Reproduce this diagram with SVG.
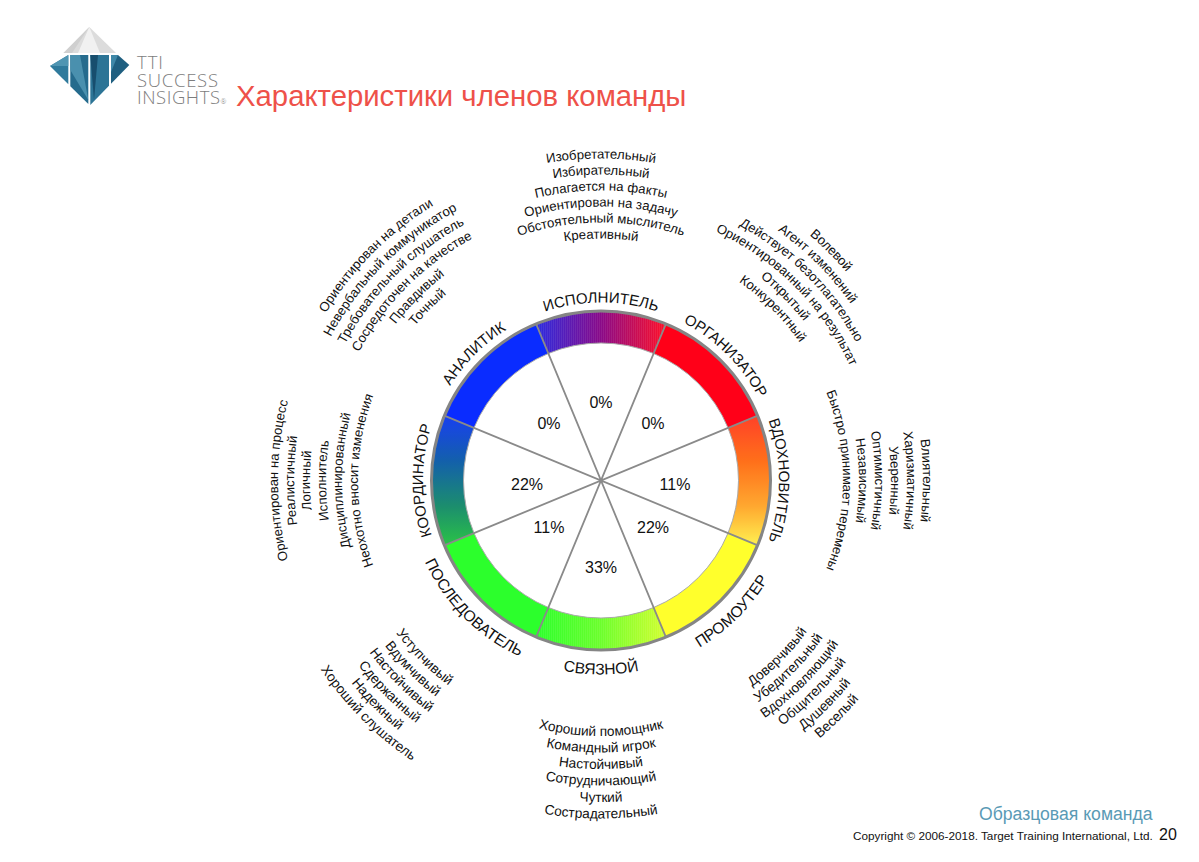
<svg xmlns="http://www.w3.org/2000/svg" width="1199" height="862" viewBox="0 0 1199 862">
<style>
text{font-family:"Liberation Sans",Arial,sans-serif;fill:#111}
.t{font-size:13.2px;text-anchor:middle}
.tb{font-size:13.7px;text-anchor:middle}
.l{font-size:15px;text-anchor:middle}
.lb{font-size:15.6px;text-anchor:middle}
.p{font-size:16px;text-anchor:middle}
.lg{font-family:"Open Sans","Liberation Sans",sans-serif;font-weight:300;font-size:18.5px;fill:#7d7d7d}
.sp{stroke:#8a8a8a;stroke-width:1.8;fill:none}
</style>
<defs>
<linearGradient id="gT" gradientUnits="userSpaceOnUse" x1="-65" y1="0" x2="65" y2="0"><stop offset="0" stop-color="#2c2ce0"/><stop offset=".5" stop-color="#8a0a88"/><stop offset="1" stop-color="#ff1028"/></linearGradient>
<linearGradient id="gE" gradientUnits="userSpaceOnUse" x1="0" y1="-65" x2="0" y2="65"><stop offset="0" stop-color="#ff3a20"/><stop offset=".35" stop-color="#ff6a12"/><stop offset=".7" stop-color="#ffa528"/><stop offset="1" stop-color="#fff04a"/></linearGradient>
<linearGradient id="gS" gradientUnits="userSpaceOnUse" x1="-65" y1="0" x2="65" y2="0"><stop offset="0" stop-color="#2cff2c"/><stop offset=".5" stop-color="#6cff2c"/><stop offset="1" stop-color="#d4ff30"/></linearGradient>
<linearGradient id="gW" gradientUnits="userSpaceOnUse" x1="0" y1="-65" x2="0" y2="65"><stop offset="0" stop-color="#1038f0"/><stop offset=".35" stop-color="#0a5aa8"/><stop offset=".7" stop-color="#148a68"/><stop offset="1" stop-color="#22c040"/></linearGradient>
<pattern id="sv" patternUnits="userSpaceOnUse" width="2" height="2"><rect width="1" height="2" fill="#fff" fill-opacity=".07"/></pattern>
<pattern id="sh" patternUnits="userSpaceOnUse" width="2" height="2"><rect width="2" height="1" fill="#fff" fill-opacity=".07"/></pattern>
<path id="c178" d="M-178 0A178 178 0 0 1 178 0"/>
<path id="c242" d="M-242 0A242 242 0 0 1 242 0"/>
<path id="c258" d="M-258 0A258 258 0 0 1 258 0"/>
<path id="c274" d="M-274 0A274 274 0 0 1 274 0"/>
<path id="c290" d="M-290 0A290 290 0 0 1 290 0"/>
<path id="c306" d="M-306 0A306 306 0 0 1 306 0"/>
<path id="c322" d="M-322 0A322 322 0 0 1 322 0"/>
<path id="c323" d="M-323 0A323 323 0 0 1 323 0"/>
<path id="c307" d="M-307 0A307 307 0 0 1 307 0"/>
<path id="c291" d="M-291 0A291 291 0 0 1 291 0"/>
<path id="c275" d="M-275 0A275 275 0 0 1 275 0"/>
<path id="c259" d="M-259 0A259 259 0 0 1 259 0"/>
<path id="c243" d="M-243 0A243 243 0 0 1 243 0"/>
<path id="b194" d="M-194 0A194 194 0 0 0 194 0"/>
<path id="b255" d="M-255.5 0A255.5 255.5 0 0 0 255.5 0"/>
<path id="b272" d="M-272 0A272 272 0 0 0 272 0"/>
<path id="b288" d="M-288.5 0A288.5 288.5 0 0 0 288.5 0"/>
<path id="b305" d="M-305 0A305 305 0 0 0 305 0"/>
<path id="b321" d="M-321.5 0A321.5 321.5 0 0 0 321.5 0"/>
<path id="b338" d="M-338 0A338 338 0 0 0 338 0"/>
</defs>
<rect width="1199" height="862" fill="#fff"/>
<g id="logo">
<polygon points="89.3,27 63.5,53 116,53" fill="#dcdcdc"/>
<polygon points="89.3,27 78,53 100,53" fill="#f1f1f1"/>
<polygon points="89.3,27 63.5,53 72,53" fill="#cfcfcf"/>
<polygon points="50,66 68.3,55 68.3,84.2" fill="#2f7a9c"/>
<polygon points="70.3,55 88.3,55 88.3,104 70.3,86.2" fill="#256b8d"/>
<polygon points="90.3,55 109,55 109,85.8 90.3,105" fill="#2c7496"/>
<polygon points="111,55 118,55 129.3,65 111,83.7" fill="#1f5f80"/>
<polygon points="70.3,55 80,55 88.3,100 70.3,70" fill="#4a90ae"/>
<polygon points="90.3,55 98,55 94,100" fill="#174e6e"/>
<polygon points="111,55 118,55 111,72" fill="#3f88a8"/>
<polygon points="50,66 68.3,55 68.3,66" fill="#4f95b2"/>
<text class="lg" x="137" y="69" textLength="26">TTI</text>
<text class="lg" x="137" y="86.5" textLength="81">SUCCESS</text>
<text class="lg" x="137" y="103.5" textLength="83">INSIGHTS</text>
<text class="lg" x="220.5" y="103.5" style="font-size:7px">®</text>
</g>
<text id="title" x="236" y="106" style="font-size:29.3px;fill:#ee5149">Характеристики членов команды</text>
<g transform="translate(601,480.5)">
<g id="node-executor">
<path d="M-64.7-156.1A169 169 0 0 1 64.7-156.1L52.6-127A137.5 137.5 0 0 0-52.6-127Z" fill="url(#gT)"/>
<path d="M-64.7-156.1A169 169 0 0 1 64.7-156.1L52.6-127A137.5 137.5 0 0 0-52.6-127Z" fill="url(#sv)"/>
<text class="p" x="0" y="-73">0%</text>
<text class="l"><textPath href="#c178" startOffset="50%">ИСПОЛНИТЕЛЬ</textPath></text>
<text class="t"><textPath href="#c322" startOffset="50%">Изобретательный</textPath></text><text class="t"><textPath href="#c306" startOffset="50%">Избирательный</textPath></text><text class="t"><textPath href="#c290" startOffset="50%">Полагается на факты</textPath></text><text class="t"><textPath href="#c274" startOffset="50%">Ориентирован на задачу</textPath></text><text class="t"><textPath href="#c258" startOffset="50%">Обстоятельный мыслитель</textPath></text><text class="t"><textPath href="#c242" startOffset="50%">Креативный</textPath></text>
</g>
<g id="node-organizer">
<path d="M64.7-156.1A169 169 0 0 1 156.1-64.7L127-52.6A137.5 137.5 0 0 0 52.6-127Z" fill="#ff0018"/>
<text class="p" x="52" y="-52">0%</text>
<g transform="rotate(45)"><text class="l"><textPath href="#c178" startOffset="50%">ОРГАНИЗАТОР</textPath></text>
<text class="t"><textPath href="#c322" startOffset="50%">Волевой</textPath></text><text class="t"><textPath href="#c306" startOffset="50%">Агент изменений</textPath></text><text class="t"><textPath href="#c290" startOffset="50%">Действует безотлагательно</textPath></text><text class="t"><textPath href="#c274" startOffset="50%">Ориентированный на результат</textPath></text><text class="t"><textPath href="#c258" startOffset="50%">Открытый</textPath></text><text class="t"><textPath href="#c242" startOffset="50%">Конкурентный</textPath></text></g>
</g>
<g id="node-inspirer">
<path d="M156.1-64.7A169 169 0 0 1 156.1 64.7L127 52.6A137.5 137.5 0 0 0 127-52.6Z" fill="url(#gE)"/>
<path d="M156.1-64.7A169 169 0 0 1 156.1 64.7L127 52.6A137.5 137.5 0 0 0 127-52.6Z" fill="url(#sh)"/>
<text class="p" x="74" y="9">11%</text>
<g transform="rotate(90)"><text class="l"><textPath href="#c178" startOffset="50%">ВДОХНОВИТЕЛЬ</textPath></text>
<text class="t"><textPath href="#c322" startOffset="50%">Влиятельный</textPath></text><text class="t"><textPath href="#c306" startOffset="50%">Харизматичный</textPath></text><text class="t"><textPath href="#c290" startOffset="50%">Уверенный</textPath></text><text class="t"><textPath href="#c274" startOffset="50%">Оптимистичный</textPath></text><text class="t"><textPath href="#c258" startOffset="50%">Независимый</textPath></text><text class="t"><textPath href="#c242" startOffset="50%">Быстро принимает перемены</textPath></text></g>
</g>
<g id="node-promoter">
<path d="M156.1 64.7A169 169 0 0 1 64.7 156.1L52.6 127A137.5 137.5 0 0 0 127 52.6Z" fill="#ffff2c"/>
<text class="p" x="52" y="52">22%</text>
<g transform="rotate(-45)"><text class="lb"><textPath href="#b194" startOffset="50%">ПРОМОУТЕР</textPath></text>
<text class="tb"><textPath href="#b255" startOffset="50%">Доверчивый</textPath></text><text class="tb"><textPath href="#b272" startOffset="50%">Убедительный</textPath></text><text class="tb"><textPath href="#b288" startOffset="50%">Вдохновляющий</textPath></text><text class="tb"><textPath href="#b305" startOffset="50%">Общительный</textPath></text><text class="tb"><textPath href="#b321" startOffset="50%">Душевный</textPath></text><text class="tb"><textPath href="#b338" startOffset="50%">Веселый</textPath></text></g>
</g>
<g id="node-connector">
<path d="M64.7 156.1A169 169 0 0 1-64.7 156.1L-52.6 127A137.5 137.5 0 0 0 52.6 127Z" fill="url(#gS)"/>
<path d="M64.7 156.1A169 169 0 0 1-64.7 156.1L-52.6 127A137.5 137.5 0 0 0 52.6 127Z" fill="url(#sv)"/>
<text class="p" x="0" y="92">33%</text>
<text class="lb"><textPath href="#b194" startOffset="50%">СВЯЗНОЙ</textPath></text>
<text class="tb"><textPath href="#b255" startOffset="50%">Хороший помощник</textPath></text><text class="tb"><textPath href="#b272" startOffset="50%">Командный игрок</textPath></text><text class="tb"><textPath href="#b288" startOffset="50%">Настойчивый</textPath></text><text class="tb"><textPath href="#b305" startOffset="50%">Сотрудничающий</textPath></text><text class="tb"><textPath href="#b321" startOffset="50%">Чуткий</textPath></text><text class="tb"><textPath href="#b338" startOffset="50%">Сострадательный</textPath></text>
</g>
<g id="node-follower">
<path d="M-64.7 156.1A169 169 0 0 1-156.1 64.7L-127 52.6A137.5 137.5 0 0 0-52.6 127Z" fill="#2cff2c"/>
<text class="p" x="-52" y="52">11%</text>
<g transform="rotate(45)"><text class="lb"><textPath href="#b194" startOffset="50%">ПОСЛЕДОВАТЕЛЬ</textPath></text>
<text class="tb"><textPath href="#b255" startOffset="50%">Уступчивый</textPath></text><text class="tb"><textPath href="#b272" startOffset="50%">Вдумчивый</textPath></text><text class="tb"><textPath href="#b288" startOffset="50%">Настойчивый</textPath></text><text class="tb"><textPath href="#b305" startOffset="50%">Сдержанный</textPath></text><text class="tb"><textPath href="#b321" startOffset="50%">Надежный</textPath></text><text class="tb"><textPath href="#b338" startOffset="50%">Хороший слушатель</textPath></text></g>
</g>
<g id="node-coordinator">
<path d="M-156.1 64.7A169 169 0 0 1-156.1-64.7L-127-52.6A137.5 137.5 0 0 0-127 52.6Z" fill="url(#gW)"/>
<path d="M-156.1 64.7A169 169 0 0 1-156.1-64.7L-127-52.6A137.5 137.5 0 0 0-127 52.6Z" fill="url(#sh)"/>
<text class="p" x="-74" y="9">22%</text>
<g transform="rotate(-90)"><text class="l"><textPath href="#c178" startOffset="50%">КООРДИНАТОР</textPath></text>
<text class="t"><textPath href="#c323" startOffset="50%">Ориентирован на процесс</textPath></text><text class="t"><textPath href="#c307" startOffset="50%">Реалистичный</textPath></text><text class="t"><textPath href="#c291" startOffset="50%">Логичный</textPath></text><text class="t"><textPath href="#c275" startOffset="50%">Исполнитель</textPath></text><text class="t"><textPath href="#c259" startOffset="50%">Дисциплинированный</textPath></text><text class="t"><textPath href="#c243" startOffset="50%">Неохотно вносит изменения</textPath></text></g>
</g>
<g id="node-analyst">
<path d="M-156.1-64.7A169 169 0 0 1-64.7-156.1L-52.6-127A137.5 137.5 0 0 0-127-52.6Z" fill="#0a2cff"/>
<text class="p" x="-52" y="-52">0%</text>
<g transform="rotate(-45)"><text class="l"><textPath href="#c178" startOffset="50%">АНАЛИТИК</textPath></text>
<text class="t"><textPath href="#c322" startOffset="50%">Ориентирован на детали</textPath></text><text class="t"><textPath href="#c306" startOffset="50%">Невербальный коммуникатор</textPath></text><text class="t"><textPath href="#c290" startOffset="50%">Требовательный слушатель</textPath></text><text class="t"><textPath href="#c274" startOffset="50%">Сосредоточен на качестве</textPath></text><text class="t"><textPath href="#c258" startOffset="50%">Правдивый</textPath></text><text class="t"><textPath href="#c242" startOffset="50%">Точный</textPath></text></g>
</g>
<g id="connectors">
<circle r="169.5" fill="none" stroke="#858585" stroke-width="3"/>
<circle r="137.5" fill="none" stroke="#aaa" stroke-width="1"/>
<path class="sp" d="M-64.7-156.1L64.7 156.1M64.7-156.1L-64.7 156.1M-156.1-64.7L156.1 64.7M156.1-64.7L-156.1 64.7"/>
</g>
</g>
<g id="footer">
<text x="979" y="820" style="font-size:17.6px;fill:#5a9ab5">Образцовая команда</text>
<text x="853" y="840" style="font-size:11.75px">Copyright © 2006-2018. Target Training International, Ltd.</text>
<text x="1159" y="840" style="font-size:16px">20</text>
</g>
</svg>
